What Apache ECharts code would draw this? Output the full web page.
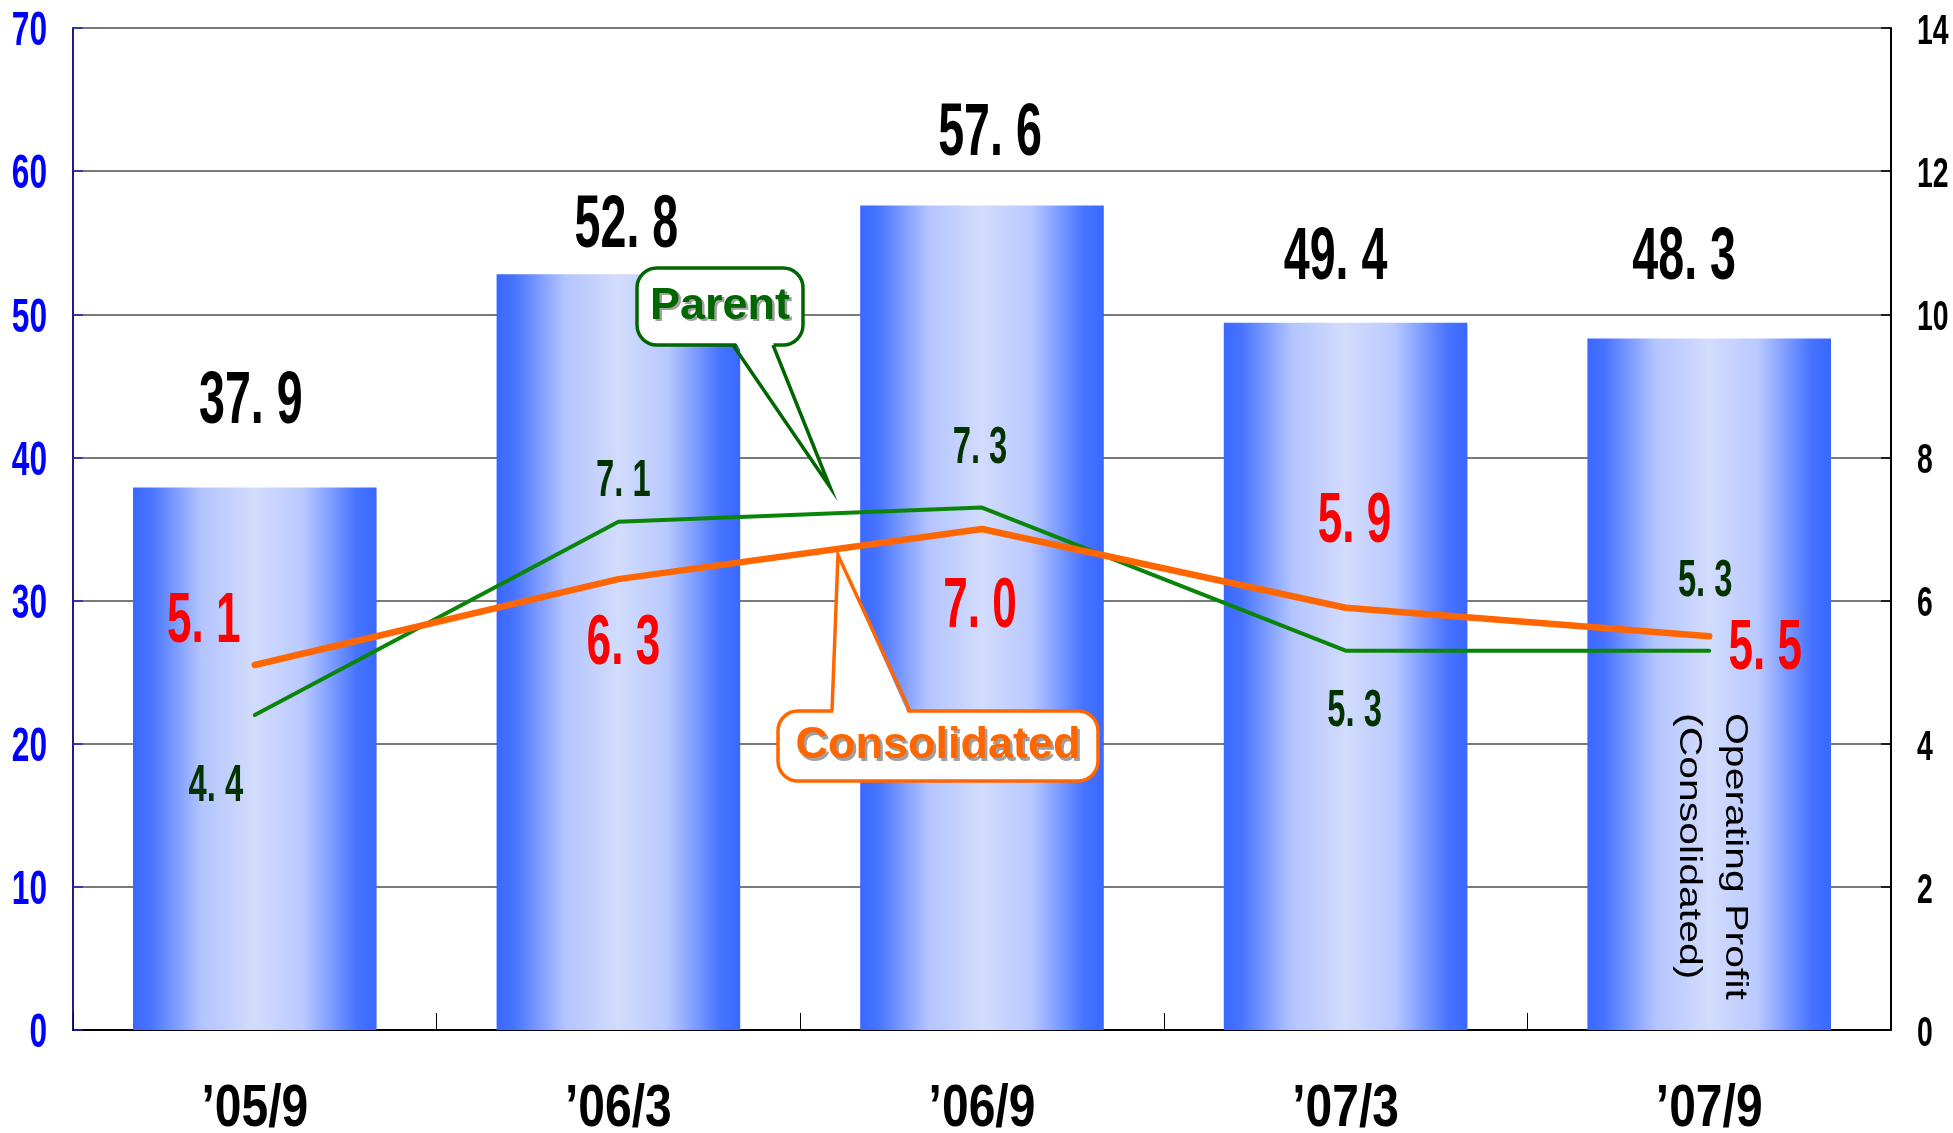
<!DOCTYPE html>
<html>
<head>
<meta charset="utf-8">
<title>Sales and Operating Profit</title>
<script src="https://cdn.jsdelivr.net/npm/echarts@6/dist/echarts.min.js"></script>
<style>
  html, body { margin: 0; padding: 0; background: #ffffff; }
  #chart { width: 1953px; height: 1133px; }
</style>
</head>
<body>
<div id="chart"></div>
<script>
// ---- data ----
const periods = ['’05/9', '’06/3', '’06/9', '’07/3', '’07/9'];
const salesValues = [37.9, 52.8, 57.6, 49.4, 48.3];          // left axis (bars)
const consolidatedProfit = [5.1, 6.3, 7.0, 5.9, 5.5];        // right axis
const parentProfit = [4.4, 7.1, 7.3, 5.3, 5.3];              // right axis
const leftTicks = [0, 10, 20, 30, 40, 50, 60, 70];
const rightTicks = [0, 2, 4, 6, 8, 10, 12, 14];

// ---- label placement (pixel offsets from each mark) ----
const salesLabelOffset = [[-4, -85], [8, -48], [8, -71], [-10, -64], [-25, -80]];
const consolidatedLabelOffset = [[-51, -42], [5, 66], [-2, 79], [9, -85], [56, 13]];
const parentLabelOffset = [[-39, 72], [5, -40], [-2, -59], [9, 61], [-4, -69]];

const NUM_FONT = "'Liberation Sans', Arial, sans-serif";
const TEXT_FONT = "'Liberation Sans', Arial, sans-serif";
const CONDENSE = 0.63;

function formatValue(v) {
  return v.toFixed(1).replace('.', '. ');
}

// value labels drawn as condensed text anchored to the data coordinates
function valueLabels(name, values, yAxisIndex, offsets, color, size) {
  return {
    type: 'custom',
    name: name,
    yAxisIndex: yAxisIndex,
    z: 20,
    silent: true,
    clip: false,
    data: values.map((v, i) => [i, v]),
    renderItem: function (params, api) {
      const p = api.coord([api.value(0), api.value(1)]);
      const off = offsets[params.dataIndex];
      return {
        type: 'text',
        x: p[0] + off[0],
        y: p[1] + off[1],
        scaleX: CONDENSE,
        style: {
          text: formatValue(api.value(1)),
          fill: color,
          font: 'bold ' + size + 'px ' + NUM_FONT,
          align: 'center',
          verticalAlign: 'middle'
        }
      };
    }
  };
}

// condensed tick labels for a value axis, placed outside the plot edge
function tickLabels(name, ticks, yAxisIndex, side, color, size, gap) {
  return {
    type: 'custom',
    name: name,
    yAxisIndex: yAxisIndex,
    z: 20,
    silent: true,
    clip: false,
    data: ticks.map(v => [0, v]),
    renderItem: function (params, api) {
      const cs = params.coordSys;
      const p = api.coord([0, api.value(1)]);
      const left = side === 'left';
      return {
        type: 'text',
        x: left ? cs.x - gap : cs.x + cs.width + gap,
        y: p[1] + 4,
        scaleX: 0.66,
        style: {
          text: String(api.value(1)),
          fill: color,
          font: 'bold ' + size + 'px ' + NUM_FONT,
          align: left ? 'right' : 'left',
          verticalAlign: 'middle'
        }
      };
    }
  };
}

// condensed category labels under the x axis
function categoryLabels(names, gap, size) {
  return {
    type: 'custom',
    name: 'Period labels',
    yAxisIndex: 0,
    z: 20,
    silent: true,
    clip: false,
    data: names.map((n, i) => [i, 0]),
    renderItem: function (params, api) {
      const cs = params.coordSys;
      const p = api.coord([api.value(0), 0]);
      return {
        type: 'text',
        x: p[0],
        y: cs.y + cs.height + gap,
        scaleX: 0.8,
        style: {
          text: names[params.dataIndex],
          fill: '#000000',
          font: 'bold ' + size + 'px ' + NUM_FONT,
          align: 'center',
          verticalAlign: 'middle'
        }
      };
    }
  };
}

const barGradient = new echarts.graphic.LinearGradient(0, 0, 1, 0, [
  { offset: 0, color: '#3a68ff' },
  { offset: 0.07, color: '#4673ff' },
  { offset: 0.28, color: '#b3c4ff' },
  { offset: 0.5, color: '#d2dcfc' },
  { offset: 0.7, color: '#b9c9ff' },
  { offset: 0.92, color: '#4673ff' },
  { offset: 1, color: '#3a68ff' }
]);

// speech-bubble callout: rounded box with a pointed tail
function callout(box, tail, color, text, textSize) {
  const [bx, by, bw, bh] = box;
  const [b1, tip, b2] = tail;
  const dir = tip[1] > by ? -5 : 5; // push cover points into the box
  return [
    { type: 'rect', z: 100, shape: { x: bx, y: by, width: bw, height: bh, r: 20 },
      style: { fill: '#ffffff', stroke: color, lineWidth: 3.5 } },
    { type: 'polygon', z: 101,
      shape: { points: [[b1[0] + 1, b1[1] + dir], tip, [b2[0] - 1, b2[1] + dir]] },
      style: { fill: '#ffffff' } },
    { type: 'polyline', z: 102, shape: { points: [b1, tip, b2] },
      style: { stroke: color, lineWidth: 3.5, fill: null, lineJoin: 'miter' } },
    { type: 'text', z: 103, x: bx + bw / 2 + 2.5, y: by + bh / 2 + 2.5,
      style: { text: text, fill: '#a0a0a0', font: 'bold ' + textSize + 'px ' + TEXT_FONT,
               align: 'center', verticalAlign: 'middle' } },
    { type: 'text', z: 104, x: bx + bw / 2, y: by + bh / 2,
      style: { text: text, fill: color, font: 'bold ' + textSize + 'px ' + TEXT_FONT,
               align: 'center', verticalAlign: 'middle' } }
  ];
}

const chart = echarts.init(document.getElementById('chart'), null, { renderer: 'canvas' });

const option = {
  backgroundColor: '#ffffff',
  animation: false,
  grid: { left: 73, right: 62, top: 28, bottom: 103, containLabel: false, outerBoundsMode: 'none' },
  xAxis: {
    type: 'category',
    data: periods,
    boundaryGap: true,
    axisLine: { show: true, lineStyle: { color: '#000000', width: 2 } },
    axisTick: { show: true, inside: true, length: 17, interval: 0, lineStyle: { color: '#000000', width: 1 } },
    axisLabel: { show: false },
    splitLine: { show: false }
  },
  yAxis: [
    {
      type: 'value',
      position: 'left',
      min: leftTicks[0], max: leftTicks[leftTicks.length - 1], interval: leftTicks[1] - leftTicks[0],
      axisLine: { show: true, lineStyle: { color: '#1c1c8a', width: 2 } },
      axisTick: { show: true, inside: true, length: 10, lineStyle: { color: '#2020c0', width: 1.5 } },
      axisLabel: { show: false },
      splitLine: { show: true, lineStyle: { color: '#7a7a7a', width: 2 } }
    },
    {
      type: 'value',
      position: 'right',
      min: rightTicks[0], max: rightTicks[rightTicks.length - 1], interval: rightTicks[1] - rightTicks[0],
      axisLine: { show: true, lineStyle: { color: '#000000', width: 2 } },
      axisTick: { show: true, inside: true, length: 10, lineStyle: { color: '#000000', width: 1.5 } },
      axisLabel: { show: false },
      splitLine: { show: false }
    }
  ],
  series: [
    {
      name: 'Sales',
      type: 'bar',
      yAxisIndex: 0,
      barWidth: '67%',
      data: salesValues,
      itemStyle: { color: barGradient },
      z: 2
    },
    {
      name: 'Parent',
      type: 'line',
      yAxisIndex: 1,
      data: parentProfit,
      symbol: 'none',
      lineStyle: { color: '#0a850a', width: 4, cap: 'round' },
      z: 5
    },
    {
      name: 'Consolidated',
      type: 'line',
      yAxisIndex: 1,
      data: consolidatedProfit,
      symbol: 'none',
      lineStyle: { color: '#ff6600', width: 6.5, cap: 'round', join: 'round' },
      z: 6
    },
    valueLabels('Sales label', salesValues, 0, salesLabelOffset, '#000000', 74),
    valueLabels('Consolidated label', consolidatedProfit, 1, consolidatedLabelOffset, '#ff0000', 70),
    valueLabels('Parent label', parentProfit, 1, parentLabelOffset, '#003300', 52),
    tickLabels('Left ticks', leftTicks, 0, 'left', '#0000ff', 48, 26),
    tickLabels('Right ticks', rightTicks, 1, 'right', '#000000', 43, 26),
    categoryLabels(periods, 79, 60)
  ],
  graphic: [
    ...callout([637, 268, 166, 77], [[733, 345], [830, 487], [773, 345]], '#006600', 'Parent', 45),
    ...callout([778, 711, 320, 70], [[832, 711], [838, 555], [910, 711]], '#ff6600', 'Consolidated', 45),
    {
      type: 'text', z: 50,
      x: 1712, y: 713,
      rotation: -Math.PI / 2,
      scaleX: 1.28,
      style: {
        text: 'Operating Profit\n(Consolidated)',
        fill: '#000000',
        font: '32px ' + TEXT_FONT,
        lineHeight: 46,
        align: 'left',
        verticalAlign: 'middle'
      }
    }
  ]
};

chart.setOption(option);
</script>
</body>
</html>
